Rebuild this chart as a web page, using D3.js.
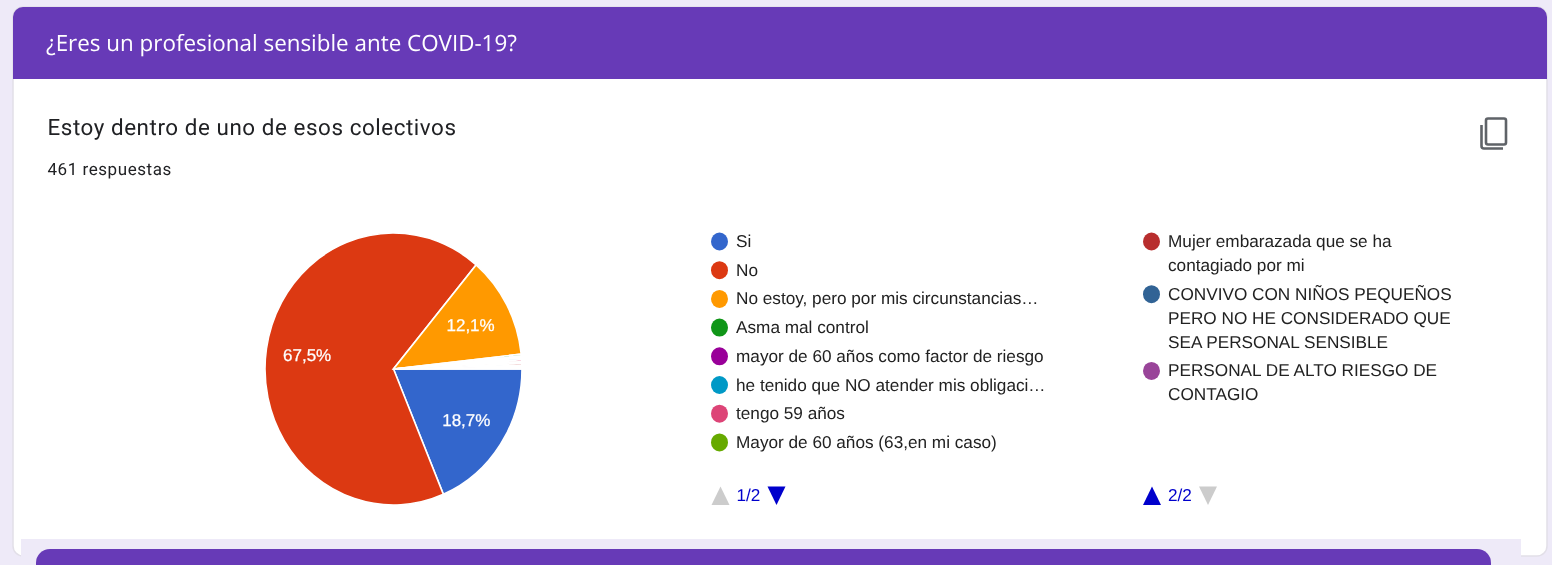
<!DOCTYPE html>
<html><head><meta charset="utf-8">
<script src="https://cdn.jsdelivr.net/npm/d3@7"></script>
<style>
html,body{margin:0;padding:0;background:#eeeaf8;overflow:hidden}
svg{display:block;filter:blur(0.35px)}
text{text-rendering:geometricPrecision}
</style></head><body>
<svg id="c" width="1552" height="565"></svg>
<script>
const categories = ["Si","No","No estoy, pero por mis circunstancias…","Asma mal control","mayor de 60 años como factor de riesgo","he tenido que NO atender mis obligaci…","tengo 59 años","Mayor de 60 años (63,en mi caso)","Mujer embarazada que se ha contagiado por mi","CONVIVO CON NIÑOS PEQUEÑOS PERO NO HE CONSIDERADO QUE SEA PERSONAL SENSIBLE","PERSONAL DE ALTO RIESGO DE CONTAGIO"];
const values = [86,311,56,1,1,1,1,1,1,1,1];
const colors = ["#3366cc","#dc3912","#ff9900","#109618","#990099","#0099c6","#dd4477","#66aa00","#b82e2e","#316395","#994499"];
const percentLabels = {0:"18,7%",1:"67,5%",2:"12,1%"};
const legendPage1 = [
 {i:0,lines:["Si"]},{i:1,lines:["No"]},{i:2,lines:["No estoy, pero por mis circunstancias…"]},
 {i:3,lines:["Asma mal control"]},{i:4,lines:["mayor de 60 años como factor de riesgo"]},
 {i:5,lines:["he tenido que NO atender mis obligaci…"]},{i:6,lines:["tengo 59 años"]},
 {i:7,lines:["Mayor de 60 años (63,en mi caso)"]}];
const legendPage2 = [
 {i:8,lines:["Mujer embarazada que se ha","contagiado por mi"]},
 {i:9,lines:["CONVIVO CON NIÑOS PEQUEÑOS","PERO NO HE CONSIDERADO QUE","SEA PERSONAL SENSIBLE"]},
 {i:10,lines:["PERSONAL DE ALTO RIESGO DE","CONTAGIO"]}];
const titleText = "¿Eres un profesional sensible ante COVID-19?";
const questionText = "Estoy dentro de uno de esos colectivos";
const responsesText = "461 respuestas";

const svg = d3.select("#c");
const PURPLE="#673ab7", BG="#eeeaf8";
const legendFont="'Liberation Sans',Arial,sans-serif";

// card
svg.append("rect").attr("x",13).attr("y",7).attr("width",1534).attr("height",549).attr("rx",10)
  .attr("fill","#fff").attr("stroke","#e2dfe8").attr("stroke-width",1.5);
svg.append("path").attr("d","M13 79V17a10 10 0 0 1 10-10H1537a10 10 0 0 1 10 10V79Z").attr("fill",PURPLE);
// next card peeking in at the bottom
svg.append("rect").attr("x",21).attr("y",539).attr("width",1500).attr("height",26).attr("fill",BG);
svg.append("path").attr("d","M36 565V563a14 14 0 0 1 14-14H1477a14 14 0 0 1 14 14V565Z").attr("fill",PURPLE);

svg.append("text").attr("x",46).attr("y",50.5).attr("fill","#fff")
  .attr("font-family","'Open Sans',sans-serif").attr("font-size",22.4).text(titleText);
svg.append("text").attr("x",47.5).attr("y",134.5).attr("fill","#202124")
  .attr("font-family","Roboto,sans-serif").attr("font-size",22.4).attr("letter-spacing",0.56).text(questionText);
svg.append("text").attr("x",47.5).attr("y",175).attr("fill","#202124")
  .attr("font-family","Roboto,sans-serif").attr("font-size",17).attr("letter-spacing",0.55).text(responsesText);

// copy icon
const ic=svg.append("g").attr("fill","none").attr("stroke","#5f6368").attr("stroke-width",2.6);
ic.append("rect").attr("x",1486).attr("y",118.5).attr("width",20).attr("height",26).attr("rx",2);
ic.append("path").attr("d","M1481.5 125V146a2.5 2.5 0 0 0 2.5 2.5H1503");

// pie (the reference is slightly stretched vertically)
const cx=393.5, cy=369, R=128.5, RY=136, sy=RY/R;
const pie=d3.pie().value(d=>d).sort(null).startAngle(Math.PI/2).endAngle(Math.PI/2+2*Math.PI);
const arcs=pie(values);
const arc=d3.arc().innerRadius(0).outerRadius(R);
const g=svg.append("g").attr("transform",`translate(${cx},${cy}) scale(1,${sy})`);
g.selectAll("path").data(arcs).join("path").attr("d",arc)
  .attr("fill",(d,i)=>colors[i]).attr("stroke","#fff").attr("stroke-width",1.6);
const labelArc=d3.arc().innerRadius(R*0.68).outerRadius(R*0.68);
svg.append("g").selectAll("text").data(arcs.filter(d=>percentLabels[d.index])).join("text")
  .attr("transform",d=>{const c=labelArc.centroid(d);return `translate(${cx+c[0]},${cy+c[1]*sy})`;})
  .attr("text-anchor","middle").attr("dy","0.33em").attr("fill","#fff")
  .attr("stroke","#fff").attr("stroke-width",0.25)
  .attr("font-family",legendFont).attr("font-size",17).text(d=>percentLabels[d.index]);

// legends
function legend(x,items,startY,lh,gap){
  let y=startY;
  const G=svg.append("g");
  items.forEach(it=>{
    G.append("ellipse").attr("cx",x+8.5).attr("cy",y).attr("rx",8.5).attr("ry",9).attr("fill",colors[it.i]);
    it.lines.forEach((l,k)=>{
      G.append("text").attr("x",x+25).attr("y",y+k*lh+5.5).attr("fill","#222")
       .attr("font-family",legendFont).attr("font-size",17.2).text(l);
    });
    y+=it.lines.length*lh+gap;
  });
}
legend(711,legendPage1,241.5,24,4.7);
legend(1143,legendPage2,241.5,24,4.7);

// pagers
function tri(x,up,c){
  const t=486.5,b=505,w=18;
  svg.append("path").attr("d",up?`M${x} ${b}L${x+w/2} ${t}L${x+w} ${b}Z`:`M${x} ${t}L${x+w} ${t}L${x+w/2} ${b}Z`).attr("fill",c);
}
function pager(x,label,upC,downC){
  tri(x,true,upC);
  svg.append("text").attr("x",x+25).attr("y",501).attr("fill","#0000cc")
   .attr("font-family",legendFont).attr("font-size",17.2).text(label);
  tri(x+56,false,downC);
}
pager(711.5,"1/2","#cccccc","#0000cc");
pager(1143,"2/2","#0000cc","#cccccc");
</script></body></html>
